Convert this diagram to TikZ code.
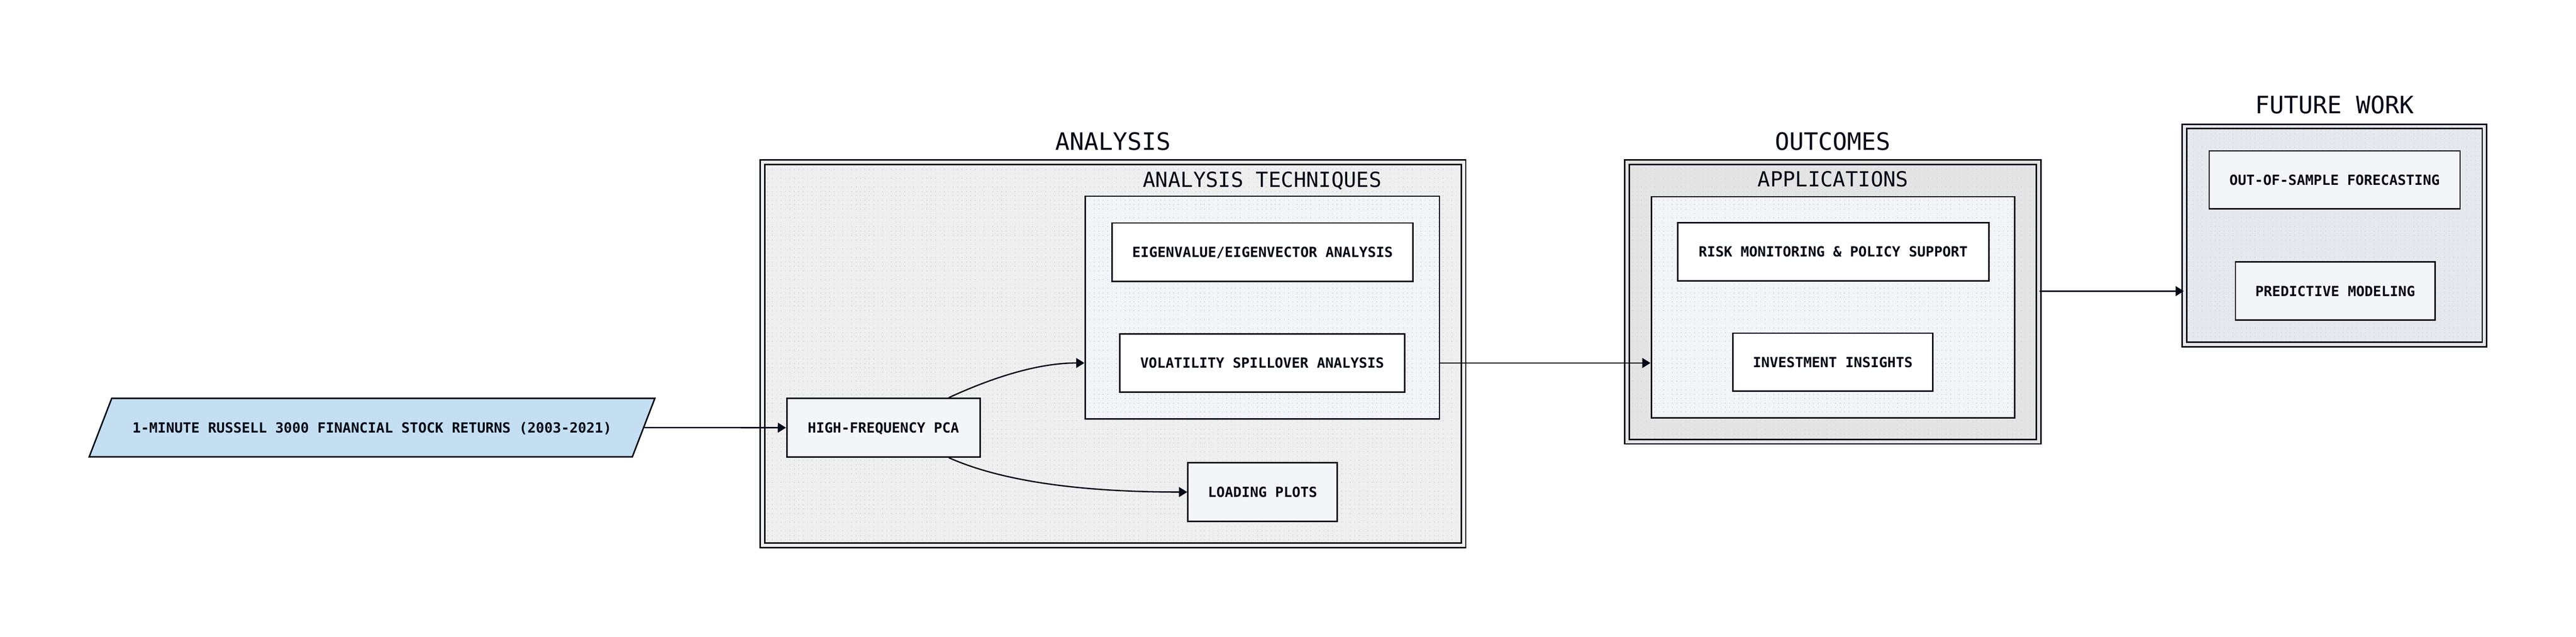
\documentclass[tikz,border=0pt]{standalone}
\usepackage{fontspec}
\newfontfamily\dmono{DejaVu Sans Mono}
\usetikzlibrary{arrows.meta,patterns,calc}
\pgfdeclarepatternformonly{dotgrid}{\pgfqpoint{-0.5pt}{-0.5pt}}{\pgfqpoint{0.5pt}{0.5pt}}{\pgfqpoint{2.686pt}{2.686pt}}{%
  \pgfpathrectangle{\pgfqpoint{-0.27pt}{-0.27pt}}{\pgfqpoint{0.54pt}{0.54pt}}\pgfusepath{fill}}
\definecolor{ink}{HTML}{060A16}
\definecolor{anaF}{HTML}{EFEFEF}
\definecolor{techF}{HTML}{F3F4F8}
\definecolor{outcF}{HTML}{E4E4E4}
\definecolor{futF}{HTML}{E7E8ED}
\definecolor{pale}{HTML}{F4F5F9}
\definecolor{srcF}{HTML}{C5DFF2}
\definecolor{dotc}{HTML}{D5D6D8}
\tikzset{
  box/.style={draw=ink, line width=0.9pt, rectangle, inner sep=0pt,
    font=\dmono\bfseries\fontsize{8.5}{10}\selectfont, text=ink,
    text height=6.2pt, text depth=0pt},
  whitebox/.style={box, fill=white},
  palebox/.style={box, fill=pale},
  cluster/.style={draw=ink, line width=0.9pt, rectangle, inner sep=0pt,
    preaction={fill=#1}, pattern=dotgrid, pattern color=dotc},
  container/.style={draw=ink, line width=0.9pt, rectangle, inner sep=0pt,
    double=#1, double distance=1.8pt,
    preaction={fill=#1}, pattern=dotgrid, pattern color=dotc},
  bigtitle/.style={font=\dmono\fontsize{14.6}{16}\selectfont, text=ink,
    inner sep=0pt, text height=10.6pt, text depth=0pt},
  clabel/.style={font=\dmono\fontsize{12.7}{14}\selectfont, text=ink,
    inner sep=0pt, text height=9.25pt, text depth=0pt},
  arrow/.style={draw=ink, line width=0.8pt, -{Triangle[length=5pt,width=6pt]}},
}
\begin{document}
\begin{tikzpicture}[x=1pt,y=-1pt]
\useasboundingbox (0,0) rectangle (1568,387.84);

% containers
\node[container=anaF, minimum width=426.65pt, minimum height=233.3pt] (ana) at (677.5,215.5) {};
\node[container=outcF, minimum width=250.6pt, minimum height=170.1pt] (outc) at (1115.65,183.9) {};
\node[container=futF, minimum width=182.55pt, minimum height=132.8pt] (fut) at (1420.98,143.4) {};

\node[bigtitle] (anaT) at (677.5,86) {ANALYSIS};
\node[bigtitle] (outcT) at (1115.65,86) {OUTCOMES};
\node[bigtitle] (futT) at (1420.98,64) {FUTURE WORK};

% clusters
\node[cluster=techF, minimum width=215.7pt, minimum height=135.7pt] (tech) at (768.35,187.35) {};
\node[cluster=techF, minimum width=221.3pt, minimum height=134.7pt] (apps) at (1115.75,187.15) {};
\node[clabel] (techT) at (768.35,109.5) {ANALYSIS TECHNIQUES};
\node[clabel] (appsT) at (1115.75,109) {APPLICATIONS};

% source parallelogram
\fill[srcF] (68,242.6) -- (398.6,242.6) -- (384.9,278.2) -- (54.3,278.2) -- cycle;
\draw[ink, line width=0.9pt, line join=miter] (68,242.6) -- (398.6,242.6) -- (384.9,278.2) -- (54.3,278.2) -- cycle;
\node[box, draw=none, minimum width=330.6pt, minimum height=35.6pt] (src) at (226.45,260.4)
  {1-MINUTE RUSSELL 3000 FINANCIAL STOCK RETURNS (2003-2021)};

% process nodes
\node[palebox, minimum width=117.6pt, minimum height=35.7pt] (hf) at (537.7,260.45) {HIGH-FREQUENCY PCA};
\node[whitebox, minimum width=183.2pt, minimum height=35.6pt] (eig) at (768.5,153.6) {EIGENVALUE/EIGENVECTOR ANALYSIS};
\node[whitebox, minimum width=173.4pt, minimum height=35.5pt] (vol) at (768.3,221.05) {VOLATILITY SPILLOVER ANALYSIS};
\node[palebox, minimum width=90.9pt, minimum height=35.7pt] (lp) at (768.55,299.65) {LOADING PLOTS};
\node[whitebox, minimum width=189.3pt, minimum height=35.2pt] (risk) at (1115.85,153.35) {RISK MONITORING \& POLICY SUPPORT};
\node[whitebox, minimum width=121.6pt, minimum height=35.4pt] (inv) at (1115.6,220.6) {INVESTMENT INSIGHTS};
\node[palebox, minimum width=152.7pt, minimum height=35.4pt] (oos) at (1421.05,109.6) {OUT-OF-SAMPLE FORECASTING};
\node[palebox, minimum width=121.4pt, minimum height=35.4pt] (pm) at (1421.4,177.3) {PREDICTIVE MODELING};

% connector anchors
\coordinate (techIn) at (tech.west |- vol.west);
\coordinate (techOut) at (tech.east |- vol.east);
\coordinate (appsIn) at (apps.west |- vol.east);
\coordinate (outcOut) at (outc.east |- pm.east);
\coordinate (futIn) at (fut.west |- pm.west);
\coordinate (hfTop) at ($(hf.north east)+(-19.4,0)$);
\coordinate (hfBot) at ($(hf.south east)+(-19.4,0)$);

% connectors
\draw[arrow] (src.east) -- (hf.west);
\draw[arrow] (hfTop) .. controls ($(hfTop)+(23,-10.6)$) and ($(techIn)+(-30.5,0)$) .. (techIn);
\draw[arrow] (hfBot) .. controls ($(hfBot)+(33,14.7)$) and ($(lp.west)+(-63,0)$) .. (lp.west);
\draw[arrow] (techOut) -- (appsIn);
\draw[arrow] (outcOut) -- (futIn);
\end{tikzpicture}
\end{document}
